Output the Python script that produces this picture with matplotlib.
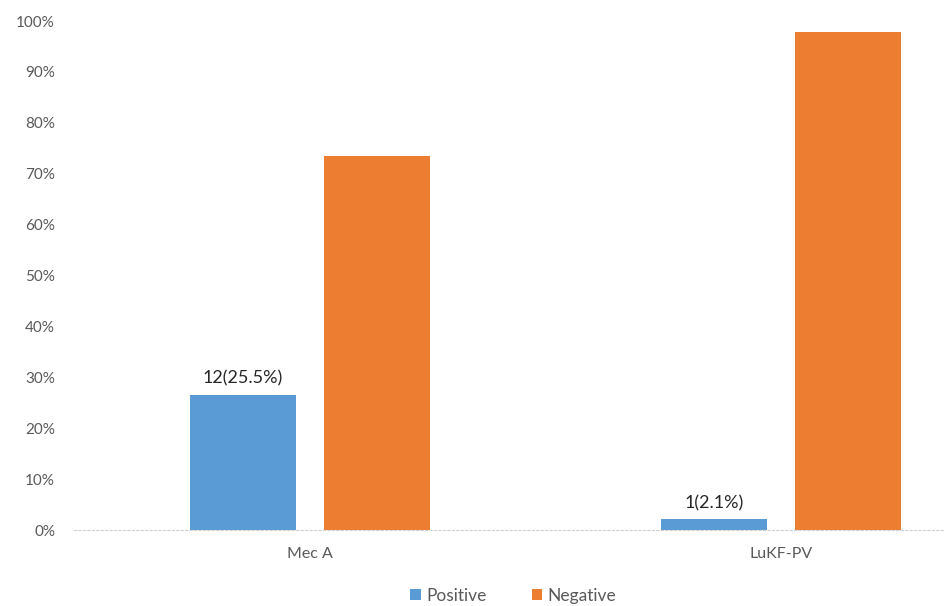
import matplotlib
matplotlib.use("Agg")
import matplotlib.pyplot as plt
import numpy as np

categories = ["Mec A", "LuKF-PV"]
positive = [26.6, 2.1]
negative = [73.4, 97.9]
pos_labels = ["12(25.5%)", "1(2.1%)"]
yticks = [0, 10, 20, 30, 40, 50, 60, 70, 80, 90, 100]
series_names = ["Positive", "Negative"]

plt.rcParams['font.family'] = ['Lato', 'DejaVu Sans']

fig = plt.figure(figsize=(9.45, 6.06), dpi=100)
ax = fig.add_axes([0.0788, 0.1254, 0.9212, 0.8399])

x = np.arange(len(categories))
w = 0.225
off = 0.142
b1 = ax.bar(x - off, positive, w, color='#5B9BD5', label=series_names[0])
b2 = ax.bar(x + off, negative, w, color='#ED7D31', label=series_names[1])

for rect, lab in zip(b1, pos_labels):
    ax.annotate(lab, (rect.get_x() + rect.get_width() / 2, rect.get_height()),
                xytext=(0, 6), textcoords='offset points', ha='center', va='bottom',
                fontsize=13, color='#262626')

ax.set_xlim(-0.5, 1.348)
ax.set_ylim(0, 100)
ax.set_yticks(yticks)
ax.set_yticklabels([f"{v}%" for v in yticks])
ax.set_xticks(x)
ax.set_xticklabels(categories)
ax.tick_params(axis='y', length=0, pad=14, labelsize=11, labelcolor='#595959')
ax.tick_params(axis='x', length=0, pad=12, labelsize=11.5, labelcolor='#595959')

for s in ['top', 'right', 'left']:
    ax.spines[s].set_visible(False)
ax.spines['bottom'].set_color('#d0d0d0')
ax.spines['bottom'].set_linestyle((0, (2, 2)))
ax.spines['bottom'].set_linewidth(0.8)

fig.legend(handles=[b1, b2], loc='center', bbox_to_anchor=(0.543, 0.017), ncol=2,
           frameon=False, fontsize=12.5, handlelength=0.6, handleheight=0.6,
           handletextpad=0.3, columnspacing=2.6, labelcolor='#595959',
           borderpad=0.1)

fig.savefig('out.png', dpi=100)
